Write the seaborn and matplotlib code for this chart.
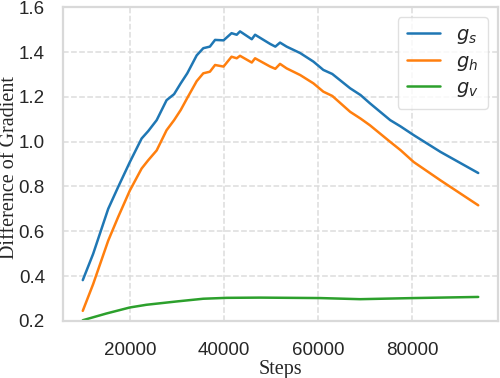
import numpy as np
import pandas as pd
import matplotlib
matplotlib.use("Agg")
import matplotlib.pyplot as plt
import seaborn as sns

# values
steps_sh = [10000, 12200, 15400, 17500, 20000, 22500, 23900, 25700, 27800, 29400,
            30800, 32200, 34200, 35600, 37000, 38100, 39900, 41600, 42700, 43400,
            45900, 46600, 49800, 50900, 51900, 53300, 56200, 59000, 61100, 63000,
            66800, 69000, 71000, 75300, 77500, 80300, 86000, 94000]
g_s = [0.382, 0.499, 0.700, 0.797, 0.909, 1.014, 1.047, 1.096, 1.185, 1.212,
       1.260, 1.305, 1.385, 1.417, 1.424, 1.454, 1.452, 1.484, 1.477, 1.492,
       1.457, 1.477, 1.436, 1.424, 1.442, 1.424, 1.395, 1.357, 1.320, 1.302,
       1.238, 1.208, 1.171, 1.096, 1.068, 1.029, 0.954, 0.860]
g_h = [0.245, 0.364, 0.558, 0.663, 0.782, 0.880, 0.917, 0.961, 1.051, 1.096,
       1.141, 1.195, 1.270, 1.305, 1.312, 1.342, 1.335, 1.379, 1.372, 1.383,
       1.353, 1.372, 1.335, 1.325, 1.347, 1.327, 1.297, 1.260, 1.223, 1.204,
       1.133, 1.103, 1.073, 0.999, 0.962, 0.909, 0.827, 0.716]

steps_v = [10000, 15000, 20000, 23500, 30000, 35600, 40600, 47700, 60400, 68900, 80300, 94000]
g_v = [0.203, 0.233, 0.260, 0.272, 0.287, 0.299, 0.303, 0.304, 0.302, 0.297, 0.302, 0.307]

sns.set_theme(style="whitegrid")
plt.rcParams.update({
    "axes.edgecolor": "#d9d9d9",
    "axes.linewidth": 1.6,
    "grid.color": "#dcdcdc",
    "grid.linestyle": "--",
    "grid.linewidth": 1.1,
    "font.family": ["Liberation Sans", "DejaVu Sans"],
})

fig, ax = plt.subplots(figsize=(5, 3.78), dpi=100)
colors = ["#1f77b4", "#ff7f0e", "#2ca02c"]

sns.lineplot(x=steps_sh, y=g_s, ax=ax, color=colors[0], lw=1.8, label=r"$g_s$")
sns.lineplot(x=steps_sh, y=g_h, ax=ax, color=colors[1], lw=1.8, label=r"$g_h$")
sns.lineplot(x=steps_v, y=g_v, ax=ax, color=colors[2], lw=1.8, label=r"$g_v$")

ax.set_ylim(0.2, 1.6)
ax.set_xticks([20000, 40000, 60000, 80000])
ax.set_yticks(np.arange(0.2, 1.61, 0.2))
ax.tick_params(axis="both", labelsize=13.5, colors="#262626")
ax.tick_params(axis="y", pad=7)
ax.tick_params(axis="x", pad=9)

ax.set_xlabel("Steps", family="Liberation Serif", fontsize=14.5, labelpad=1)
ax.set_ylabel("Difference of Gradient", family="Liberation Serif", fontsize=14.5)
ax.yaxis.set_label_coords(-0.1, 0.49)

leg = ax.legend(loc="upper right", fontsize=14, frameon=True, handlelength=1.7,
                borderpad=0.5, labelspacing=0.35)
leg.get_frame().set_edgecolor("#d9d9d9")

fig.subplots_adjust(left=0.126, right=0.996, top=0.981, bottom=0.151)
fig.savefig("out.png", dpi=100)
